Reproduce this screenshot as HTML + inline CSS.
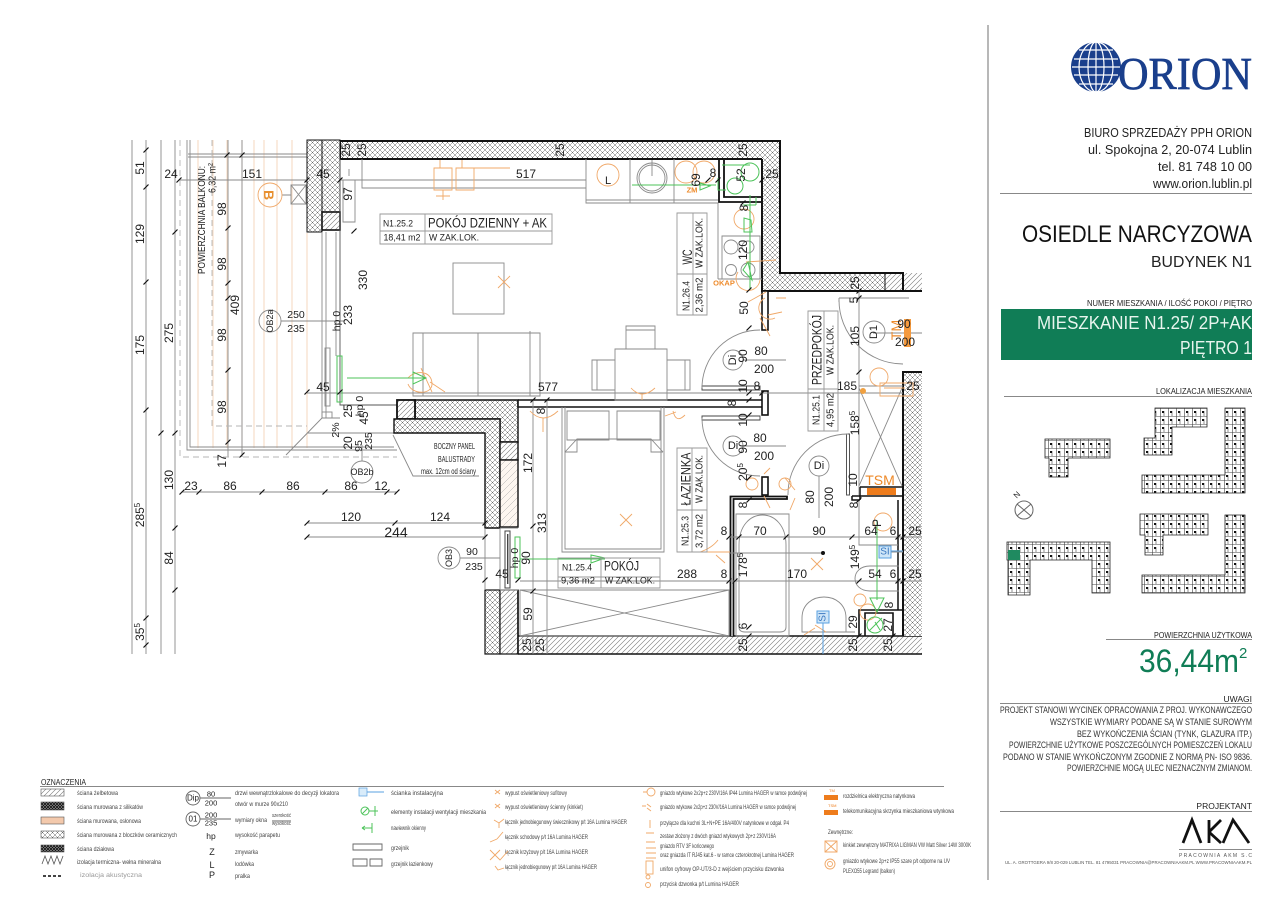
<!DOCTYPE html>
<html lang="pl"><head><meta charset="utf-8"><title>Mieszkanie N1.25</title>
<style>
html,body{margin:0;padding:0;background:#fff}
svg{display:block}
text{font-family:"Liberation Sans","DejaVu Sans",sans-serif;fill:#222}
.d text{font-size:12px;text-anchor:middle;dominant-baseline:central;fill:#222}
.lg text{font-size:6.6px;fill:#444}
.o{stroke:#f0a868;fill:none;stroke-width:.9}
.g{stroke:#8a8a8a;fill:none;stroke-width:.9}
.gl{stroke:#b5b5b5;fill:none;stroke-width:.9}
.k{stroke:#111;fill:none;stroke-width:2}
.gr{stroke:#4cc35a;fill:none;stroke-width:1}
</style></head><body>
<svg xmlns="http://www.w3.org/2000/svg" width="1280" height="905" viewBox="0 0 1280 905">
<defs>
<pattern id="cr" patternUnits="userSpaceOnUse" width="5" height="5"><rect width="5" height="5" fill="#fff"/><path d="M0 0L5 5M5 0L0 5" stroke="#666" stroke-width=".5"/></pattern>
<pattern id="di" patternUnits="userSpaceOnUse" width="5" height="5"><rect width="5" height="5" fill="#fff"/><path d="M-1 6L6 -1M-1 1L1 -1M4 6L6 4" stroke="#777" stroke-width=".6"/></pattern>
<pattern id="pe" patternUnits="userSpaceOnUse" width="7" height="7"><rect width="7" height="7" fill="#fdf6f0"/><path d="M-1 8L8 -1" stroke="#aaa" stroke-width=".5"/></pattern>
<pattern id="bl" patternUnits="userSpaceOnUse" width="8" height="8"><rect width="8" height="8" fill="#fff"/><path d="M0 .5H8M.5 0V8M4 3V8" stroke="#444" stroke-width=".6"/><rect x="2" y="3" width="2" height="2" fill="#111"/></pattern>
<pattern id="de" patternUnits="userSpaceOnUse" width="3" height="3"><rect width="3" height="3" fill="#aaa"/><path d="M0 0L3 3M3 0L0 3" stroke="#111" stroke-width=".9"/></pattern>
<g id="t"><path d="M-2.5 2.5L2.5 -2.5" stroke="#111" stroke-width="1.2"/></g>
</defs>

<!-- balcony -->
<g style="stroke:#f3d3b8;fill:none;stroke-width:.9">
<path d="M198 140V448M213 140V448M227 140V448M242 140V448M254 140V448M264 140V448M277 140V448M292 140V448M307 233V448"/>
</g>
<g class="g">
<path d="M187 140V450H397M190 140V447H394"/>
<path d="M228 140V457M242 140V457M161 140V654M175 140V654M146 140V654M132 140V654"/>
<path d="M188 154H307M188 157H307M180 180H586"/>
<path d="M286 455L322 418H340M307 433H394"/>
<path d="M281 321H345M282 195H291M291 185H306V204H291ZM291 185L306 204M306 185L291 204"/>
<path d="M362 445V461M393 435L413 476H479"/>
<path d="M182 492H397M307 523H485M307 537H485M460 558H500"/>
</g>
<g class="gl" style="stroke-dasharray:6 4">
<path d="M180 140V457H397M212 140V426H307"/>
</g>
<circle cx="270" cy="195" r="12" class="o"/>
<text x="269" y="195" transform="rotate(90 269 195)" text-anchor="middle" dominant-baseline="central" style="fill:#e89030;font-size:14px;font-weight:bold">B</text>

<!-- walls -->
<path d="M340 141H780V273H885V291H762V159H340Z" fill="url(#cr)"/>
<rect x="885" y="273" width="18" height="18" fill="url(#di)"/>
<rect x="903" y="273" width="19" height="18" fill="url(#di)"/>
<path d="M340 159V141H780V273H903V291M903 291H922M762 159H340M762 159V291H903" class="k"/>
<path d="M885 273V291" class="k" style="stroke-width:1"/>
<rect x="762" y="291" width="6" height="39" fill="#fff" stroke="#111" stroke-width="1.6"/>
<rect x="307" y="140" width="15" height="92" fill="url(#cr)" stroke="#111" stroke-width="1"/>
<rect x="322" y="140" width="18" height="72" fill="url(#cr)" stroke="#111" stroke-width="1"/>
<rect x="322" y="212" width="18" height="18" fill="url(#di)" stroke="#111" stroke-width="1.6"/>
<path d="M322 232V418M326 232V418M336 232V356" class="g"/>
<path d="M340 159V405H397" class="g" style="stroke:#555"/>
<rect x="325" y="348" width="5" height="58" fill="#fff" class="g"/>
<rect x="322" y="412" width="10" height="6" fill="#fff" class="g"/>
<path d="M415 400H518V442H500V419H415Z" fill="url(#cr)" stroke="#111" stroke-width="1.4"/>
<rect x="397" y="400" width="18" height="19" fill="url(#di)" stroke="#111" stroke-width="1.8"/>
<path d="M394 419H500V528H485V433H394Z" fill="url(#cr)" stroke="#111" stroke-width="1.4"/>
<rect x="500" y="442" width="18" height="18" fill="url(#di)" stroke="#111" stroke-width="1.4"/>
<rect x="500" y="460" width="18" height="67" fill="url(#pe)" stroke="#111" stroke-width="1.4"/>
<rect x="485" y="590" width="15" height="64" fill="url(#cr)" stroke="#111" stroke-width="1.2"/>
<rect x="500" y="590" width="18" height="64" fill="url(#di)" stroke="#111" stroke-width="1.2"/>
<rect x="518" y="636" width="404" height="18" fill="url(#di)"/>
<path d="M518 636H922M518 654H922M518 590V654" class="k" style="stroke-width:1.6"/>
<rect x="903" y="372" width="19" height="264" fill="url(#cr)"/>
<path d="M922 372H903V636" class="k"/>
<rect x="518" y="400" width="244" height="7" fill="#fff"/>
<path d="M518 400H762M518 407H762M518 400V407" class="k" style="stroke-width:1.6"/>
<rect x="762" y="391" width="6" height="24" fill="#fff" stroke="#111" stroke-width="1.6"/>
<!-- bathroom walls -->
<path d="M730.5 636V496.5H787V499H733.5V636" fill="#fff" stroke="#111" stroke-width="1.8"/>
<rect x="762" y="477" width="6" height="18" fill="#fff" stroke="#111" stroke-width="1.6"/>
<path d="M852 496H903M852 496V500H860M860 487H903M860 487V500M898 500V610" class="k" style="stroke-width:1.5"/>
<rect x="867" y="488" width="29" height="7" fill="#ee7c1c"/>
<rect x="846.5" y="434" width="3" height="61" fill="#fff" stroke="#555" stroke-width="1"/>
<path d="M859 636V610H903M865 636V613H893V636" class="k" style="stroke-width:1.6"/>
<!-- kitchen shaft -->
<path d="M719 159V202H762M724 159V197H762" class="k" style="stroke-width:1.8"/>
<!-- window OB3 -->
<path d="M500 528H518M500 590H518M485 528V590M500 528V590" class="g"/>
<rect x="505" y="531" width="5" height="57" fill="#fff" stroke="#444"/>
<rect x="507" y="534" width="1.4" height="50" fill="#444"/>

<!-- furniture -->
<g class="g">
<path d="M362 159V188H586M586 159V203H718M630 159V203M674 159V203M586 200H718"/>
<circle cx="652" cy="178" r="15"/><circle cx="652" cy="178" r="13"/>
<path d="M652 160V176"/>
<path d="M718 203V279M722 236H760V279H722ZM718 279H762"/>
<circle cx="731" cy="247" r="7"/><circle cx="748" cy="247" r="6"/><circle cx="731" cy="270" r="5.5"/><circle cx="748" cy="270" r="7"/>
<path d="M343 180H355V222H343ZM349 169V176"/>
<rect x="453" y="263" width="51" height="51"/>
<path d="M413 333H540V396H413ZM423 333V396M478 333V396M530 331V396H413"/>
<path d="M615 349H667V400H615ZM626 349V326H655V349M626 330H655M615 360H592V390H615M597 360V390M667 360H690V390H667M685 360V390"/>
<path d="M307 393H903"/>
<path d="M859 291V495M839 298H909M839 298V302"/>
<path d="M859 386H903M859 388L902 486M902 388L859 486"/>
<path d="M533 400V654M547 400V654"/>
<path d="M520 590H729V636H520ZM520 590L729 636M520 636L729 590"/>
<path d="M562 407V552H664V407M565 407V549H661V407"/>
<path d="M567 411H609V440H567ZM617 411H660V440H617Z"/>
<path d="M565 452L577 439H651L663 452M565 452H577V439M651 439V452H663"/>
<path d="M520 581H922M729 537H922M729 553H823"/>
<path d="M736 514H789V636H736ZM739 627V545C739 505 786 505 786 545V627Q786 632 780 632H745Q739 632 739 627"/>
<path d="M802 632V618C802 590 846 590 846 618V632ZM802 632H855"/>
<path d="M899 566H870C850 566 850 591 870 591H899"/>
<path d="M859 500V545H898"/>
<path d="M743 360H786M743 446H786M819 476V518M873 333H922M885 552H903"/>
<path d="M702 386H760V390H702ZM702 416H760V420H702Z" fill="#fff" style="stroke:#444"/>
<path d="M702 388A58 58 0 0 1 760 330M702 418A58 58 0 0 0 760 476M788 495A60 60 0 0 1 848 434M839 300A64 64 0 0 0 903 364"/>
<circle cx="733" cy="360" r="10"/><circle cx="733" cy="446" r="10"/><circle cx="819" cy="466" r="10"/><circle cx="874" cy="332" r="11"/>
<circle cx="270" cy="321" r="11"/><circle cx="362" cy="472" r="11"/><circle cx="449" cy="558" r="11"/>
</g>

<!-- orange -->
<g class="o">
<path d="M498 276L510 288M510 276L498 288M620 514L632 526M632 514L620 526M811 558L823 570M823 558L811 570M434 168H452V190H434ZM456 168H474V190H456ZM440 168V160M462 168V160M443 190V200M436 196H450M474 168H510"/>
<circle cx="608" cy="175" r="11"/>
<circle cx="686" cy="172" r="11"/><circle cx="704" cy="172" r="11"/>
<circle cx="744" cy="219" r="10"/>
<path d="M746 262L776 260M738 272A12 12 0 1 0 760 280M765 298A10 10 0 1 0 775 318M748 302L766 292M776 298H786M768 315L782 312M760 318L770 336"/>
<path d="M631 388Q642 400 655 388M642 394V400M530 411Q543 425 558 411M543 418V432"/><path d="M673 411Q676 424 685 415M665 416L676 412"/>
<path d="M408 378C415 370 432 370 432 384C432 395 412 395 408 384M430 382L445 392M421 368L432 392"/>
<circle cx="879" cy="377" r="9"/>
<path d="M880 383H913V396H880ZM884 388H905"/>
<circle cx="752" cy="484" r="6"/><circle cx="785" cy="484" r="6"/>
<path d="M770 468L764 474M785 478L795 490M764 496L770 508M795 498L790 510"/>
<path d="M730 552H700Q712 548 718 540M716 555L725 563"/>
<circle cx="860" cy="600" r="6"/><circle cx="868" cy="612" r="8"/>
<path d="M815 625L826 632M804 635L815 628"/>
<circle cx="883" cy="522" r="9"/>
</g>
<circle cx="863" cy="391" r="3" fill="#f0a040"/>
<rect x="904" y="319" width="7" height="28" fill="#f59a3e"/>
<text transform="translate(896,330) rotate(-90)" text-anchor="middle" dominant-baseline="central" style="fill:#ee8a2a;font-size:14px">TM</text>
<text x="880" y="480" text-anchor="middle" dominant-baseline="central" style="fill:#ee8a2a;font-size:14px">TSM</text>
<text x="692" y="190" text-anchor="middle" dominant-baseline="central" style="fill:#ee8a2a;font-size:7.5px;font-weight:bold">ZM</text>
<text x="724" y="283" text-anchor="middle" dominant-baseline="central" style="fill:#ee8a2a;font-size:7.5px;font-weight:bold">OKAP</text>
<text x="608" y="181" text-anchor="middle" dominant-baseline="central" style="font-size:11px">L</text>

<!-- green -->
<g class="gr">
<path d="M632 185H716M700 183L710 186L700 190ZM347 378H426M413 372L426 378L413 384ZM337 356H342V402H337ZM520 559H605M591 555L605 558L591 563ZM515 537H520V578H515ZM750 195V290M877 520V600M870 598H884L877 612ZM722 165H750"/>
<circle cx="750" cy="172" r="9"/><circle cx="735" cy="186" r="8"/>
<path d="M718 178V190H726M756 197V205M743 205H756M748 262L752 280L743 270ZM751 220L744 218V232H752ZM875 622L880 630"/>
<circle cx="875" cy="625" r="8"/>
<path d="M869 631L882 618"/>
</g>
<!-- blue -->
<g fill="none" stroke="#5aa0e0">
<rect x="879" y="546" width="12" height="12" fill="#cfe6f8"/><rect x="817" y="611" width="12" height="12" fill="#cfe6f8"/>
<path d="M891 551H903M823 623V654"/>
</g>
<text x="885" y="552" text-anchor="middle" dominant-baseline="central" style="font-size:10px;fill:#3a78c0">SI</text>
<text transform="translate(823,617) rotate(-90)" text-anchor="middle" dominant-baseline="central" style="font-size:10px;fill:#3a78c0">SI</text>
<circle cx="823" cy="553" r="2" fill="#111"/>

<!-- room label boxes -->
<g class="g" style="stroke:#999">
<path d="M380 214H552V244H380ZM380 231H552M425 214V244"/>
<path d="M677 213H707V315H677ZM677 274H707M693 213V315"/>
<path d="M808 311H838V431H808ZM808 389H838M824 311V431"/>
<path d="M677 448H707V552H677ZM677 510H707M692 448V552"/>
<path d="M558 558H660V588H558ZM558 577H660M601 558V588"/>
</g>
<g>
<text x="398" y="224" text-anchor="middle" dominant-baseline="central" textLength="30" lengthAdjust="spacingAndGlyphs" style="font-size:9.5px">N1.25.2</text>
<text x="402" y="238" text-anchor="middle" dominant-baseline="central" textLength="37" lengthAdjust="spacingAndGlyphs" style="font-size:9.5px">18,41 m2</text>
<text x="428" y="223" dominant-baseline="central" textLength="119" lengthAdjust="spacingAndGlyphs" style="font-size:13.5px">POKÓJ DZIENNY + AK</text>
<text x="429" y="238" dominant-baseline="central" textLength="50" lengthAdjust="spacingAndGlyphs" style="font-size:9.5px">W ZAK.LOK.</text>
<text x="577" y="568" text-anchor="middle" dominant-baseline="central" textLength="30" lengthAdjust="spacingAndGlyphs" style="font-size:9.5px">N1.25.4</text>
<text x="578" y="581" text-anchor="middle" dominant-baseline="central" textLength="34" lengthAdjust="spacingAndGlyphs" style="font-size:9.5px">9,36 m2</text>
<text x="604" y="566" dominant-baseline="central" textLength="35" lengthAdjust="spacingAndGlyphs" style="font-size:13.5px">POKÓJ</text>
<text x="605" y="581" dominant-baseline="central" textLength="50" lengthAdjust="spacingAndGlyphs" style="font-size:9.5px">W ZAK.LOK.</text>
</g>
<g class="d">
<text transform="translate(687,257) rotate(-90)" textLength="15" lengthAdjust="spacingAndGlyphs" style="font-size:14px">WC</text>
<text transform="translate(700,243) rotate(-90)" textLength="50" lengthAdjust="spacingAndGlyphs" style="font-size:10px">W ZAK.LOK.</text>
<text transform="translate(687,296) rotate(-90)" textLength="30" lengthAdjust="spacingAndGlyphs" style="font-size:10px">N1.26.4</text>
<text transform="translate(700,295) rotate(-90)" textLength="35" lengthAdjust="spacingAndGlyphs" style="font-size:10px">2,36 m2</text>
<text transform="translate(817,350) rotate(-90)" textLength="70" lengthAdjust="spacingAndGlyphs" style="font-size:13.5px">PRZEDPOKÓJ</text>
<text transform="translate(831,350) rotate(-90)" textLength="50" lengthAdjust="spacingAndGlyphs" style="font-size:10px">W ZAK.LOK.</text>
<text transform="translate(817,410) rotate(-90)" textLength="30" lengthAdjust="spacingAndGlyphs" style="font-size:10px">N1.25.1</text>
<text transform="translate(831,410) rotate(-90)" textLength="34" lengthAdjust="spacingAndGlyphs" style="font-size:10px">4,95 m2</text>
<text transform="translate(686,479) rotate(-90)" textLength="53" lengthAdjust="spacingAndGlyphs" style="font-size:13.5px">ŁAZIENKA</text>
<text transform="translate(700,479) rotate(-90)" textLength="48" lengthAdjust="spacingAndGlyphs" style="font-size:10px">W ZAK.LOK.</text>
<text transform="translate(686,531) rotate(-90)" textLength="30" lengthAdjust="spacingAndGlyphs" style="font-size:10px">N1.25.3</text>
<text transform="translate(700,531) rotate(-90)" textLength="34" lengthAdjust="spacingAndGlyphs" style="font-size:10px">3,72 m2</text>

<!-- vertical dims left -->
<text transform="translate(140,168) rotate(-90)">51</text>
<text transform="translate(140,234) rotate(-90)">129</text>
<text transform="translate(140,345) rotate(-90)">175</text>
<text transform="translate(140,515) rotate(-90)">285<tspan dy="-3" style="font-size:8px">5</tspan></text>
<text transform="translate(140,632) rotate(-90)">35<tspan dy="-3" style="font-size:8px">5</tspan></text>
<text transform="translate(169,333) rotate(-90)">275</text>
<text transform="translate(169,480) rotate(-90)">130</text>
<text transform="translate(169,558) rotate(-90)">84</text>
<text transform="translate(202,220) rotate(-90)" textLength="108" lengthAdjust="spacingAndGlyphs" style="font-size:10.5px">POWIERZCHNIA BALKONU:</text>
<text transform="translate(213,178) rotate(-90)" textLength="30" lengthAdjust="spacingAndGlyphs" style="font-size:10px">6,32 m²</text>
<text transform="translate(222,209) rotate(-90)">98</text>
<text transform="translate(222,264) rotate(-90)">98</text>
<text transform="translate(222,335) rotate(-90)">98</text>
<text transform="translate(222,407) rotate(-90)">98</text>
<text transform="translate(235,305) rotate(-90)">409</text>
<text transform="translate(222,461) rotate(-90)">17</text>
<text x="171" y="174">24</text><text x="252" y="174">151</text><text x="323" y="174">45</text>
<text x="323" y="387">45</text>
<text transform="translate(270,321) rotate(-90)" style="font-size:9px">OB2a</text>
<text x="296" y="315" style="font-size:10.5px">250</text><text x="296" y="329" style="font-size:10.5px">235</text>
<text transform="translate(337,321) rotate(-90)" style="font-size:10.5px">hp 0</text>
<text transform="translate(348,315) rotate(-90)">233</text>
<text transform="translate(363,280) rotate(-90)">330</text>
<text transform="translate(348,194) rotate(-90)">97</text>
<text transform="translate(346,150) rotate(-90)">25</text><text transform="translate(362,150) rotate(-90)">25</text>
<text transform="translate(560,150) rotate(-90)">25</text><text transform="translate(743,150) rotate(-90)">25</text>
<text x="526" y="174">517</text>
<text x="713" y="173">8</text><text transform="translate(741,175) rotate(-90)">52</text><text x="772" y="174">25</text>
<text transform="translate(696,180) rotate(-90)">69</text>
<text transform="translate(744,208) rotate(-90)">8</text><text transform="translate(743,250) rotate(-90)">120</text>
<text transform="translate(744,308) rotate(-90)">50</text>
<text transform="translate(733,360) rotate(-90)" style="font-size:11px">Di</text><text transform="translate(743,356) rotate(-90)">90</text>
<text x="761" y="351">80</text><text x="764" y="369">200</text>
<text transform="translate(743,386) rotate(-90)">10</text><text x="757" y="386">8</text>
<text x="548" y="387">577</text><text transform="translate(732,403) rotate(-90)">8</text>
<text transform="translate(855,283) rotate(-90)">25</text><text transform="translate(854,300) rotate(-90)">5</text>
<text transform="translate(874,332) rotate(-90)" style="font-size:11px">D1</text>
<text transform="translate(855,336) rotate(-90)">105</text>
<text x="904" y="324">90</text><text x="905" y="342">200</text>
<text x="847" y="386">185</text><text x="913" y="386">25</text>
<text transform="translate(855,423) rotate(-90)">158<tspan dy="-3" style="font-size:8px">5</tspan></text>
<text transform="translate(743,420) rotate(-90)">10</text>
<text transform="translate(733,446)" style="font-size:11px">Di</text><text transform="translate(743,447) rotate(-90)">90</text>
<text x="760" y="438">80</text><text x="764" y="456">200</text>
<text transform="translate(743,472) rotate(-90)">20<tspan dy="-3" style="font-size:8px">5</tspan></text>
<text x="819" y="466" style="font-size:11px">Di</text>
<text transform="translate(810,497) rotate(-90)">80</text><text transform="translate(829,497) rotate(-90)">200</text>
<text transform="translate(853,480) rotate(-90)">10</text>
<text transform="translate(743,505) rotate(-90)">8</text><text transform="translate(854,505) rotate(-90)">8</text>
<text x="724" y="531">8</text><text x="760" y="531">70</text><text x="819" y="531">90</text><text x="871" y="531">64</text><text x="893" y="531">6</text><text x="915" y="531">25</text>
<text transform="translate(877,523) rotate(-90)">P</text>
<text x="687" y="574">288</text><text x="724" y="574">8</text><text x="797" y="574">170</text><text x="875" y="574">54</text><text x="893" y="574">6</text><text x="915" y="574">25</text>
<text transform="translate(743,565) rotate(-90)">178<tspan dy="-3" style="font-size:8px">5</tspan></text>
<text transform="translate(855,557) rotate(-90)">149<tspan dy="-3" style="font-size:8px">5</tspan></text>
<text transform="translate(743,626) rotate(-90)">6</text>
<text transform="translate(853,622) rotate(-90)">29</text><text transform="translate(888,625) rotate(-90)">27</text><text transform="translate(889,605) rotate(-90)">8</text>
<text transform="translate(527,645) rotate(-90)">25</text><text transform="translate(540,645) rotate(-90)">25</text><text transform="translate(743,645) rotate(-90)">25</text><text transform="translate(853,645) rotate(-90)">25</text><text transform="translate(888,645) rotate(-90)">25</text>
<text transform="translate(528,463) rotate(-90)">172</text><text transform="translate(542,523) rotate(-90)">313</text>
<text transform="translate(528,614) rotate(-90)">59</text><text transform="translate(541,411) rotate(-90)">8</text>
<text transform="translate(348,411) rotate(-90)">25</text><text transform="translate(360,406) rotate(-90)" style="font-size:10.5px">hp 0</text><text transform="translate(364,418) rotate(-90)">45</text>
<text transform="translate(336,430) rotate(-90)" style="font-size:10.5px">2%</text><text transform="translate(348,443) rotate(-90)">20</text><text transform="translate(369,441) rotate(-90)" style="font-size:10.5px">235</text><text transform="translate(359,446) rotate(-90)" style="font-size:10.5px">95</text>
<text x="362" y="472" style="font-size:9px">OB2b</text>
<text x="191" y="486">23</text><text x="230" y="486">86</text><text x="293" y="486">86</text><text x="351" y="486">86</text><text x="381" y="486">12</text>
<text x="351" y="517">120</text><text x="440" y="517">124</text><text x="396" y="532" style="font-size:14px">244</text>
<text transform="translate(449,558) rotate(-90)" style="font-size:9px">OB3</text>
<text x="472" y="552" style="font-size:10.5px">90</text><text x="474" y="567" style="font-size:10.5px">235</text>
<text transform="translate(515,558) rotate(-90)" style="font-size:10.5px">hp 0</text><text transform="translate(526,558) rotate(-90)">90</text><text x="502" y="574">45</text>
</g>
<text x="475" y="449" text-anchor="end" textLength="41" lengthAdjust="spacingAndGlyphs" style="font-size:8.5px">BOCZNY PANEL</text>
<text x="475" y="462" text-anchor="end" textLength="37" lengthAdjust="spacingAndGlyphs" style="font-size:8.5px">BALUSTRADY</text>
<text x="476" y="474" text-anchor="end" textLength="55" lengthAdjust="spacingAndGlyphs" style="font-size:8px">max. 12cm od ściany</text>
<!-- ticks -->
<g>
<use href="#t" x="146" y="150"/><use href="#t" x="146" y="187"/><use href="#t" x="146" y="282"/><use href="#t" x="146" y="410"/><use href="#t" x="146" y="618"/><use href="#t" x="146" y="645"/>
<use href="#t" x="175" y="232"/><use href="#t" x="175" y="433"/><use href="#t" x="175" y="528"/><use href="#t" x="175" y="590"/><use href="#t" x="161" y="433"/>
<use href="#t" x="179" y="180"/><use href="#t" x="307" y="180"/><use href="#t" x="340" y="180"/><use href="#t" x="227" y="155"/><use href="#t" x="242" y="155"/>
<use href="#t" x="228" y="228"/><use href="#t" x="228" y="283"/><use href="#t" x="228" y="298"/><use href="#t" x="228" y="370"/><use href="#t" x="228" y="442"/><use href="#t" x="242" y="455"/>
<use href="#t" x="307" y="392"/><use href="#t" x="340" y="392"/><use href="#t" x="354" y="231"/>
<use href="#t" x="182" y="492"/><use href="#t" x="199" y="492"/><use href="#t" x="262" y="492"/><use href="#t" x="325" y="492"/><use href="#t" x="387" y="492"/><use href="#t" x="397" y="492"/>
<use href="#t" x="307" y="523"/><use href="#t" x="395" y="523"/><use href="#t" x="485" y="523"/><use href="#t" x="307" y="537"/><use href="#t" x="485" y="537"/><use href="#t" x="485" y="580"/><use href="#t" x="518" y="580"/>
<use href="#t" x="708" y="180"/><use href="#t" x="718" y="180"/><use href="#t" x="762" y="180"/><use href="#t" x="743" y="203"/><use href="#t" x="749" y="290"/><use href="#t" x="749" y="328"/>
<use href="#t" x="749" y="393"/><use href="#t" x="762" y="393"/><use href="#t" x="859" y="291"/><use href="#t" x="859" y="298"/><use href="#t" x="859" y="372"/>
<use href="#t" x="533" y="400"/><use href="#t" x="547" y="400"/><use href="#t" x="533" y="591"/><use href="#t" x="533" y="526"/><use href="#t" x="729" y="537"/><use href="#t" x="739" y="537"/><use href="#t" x="786" y="537"/><use href="#t" x="852" y="537"/><use href="#t" x="898" y="537"/><use href="#t" x="903" y="537"/>
<use href="#t" x="729" y="581"/><use href="#t" x="735" y="581"/><use href="#t" x="859" y="581"/><use href="#t" x="898" y="581"/><use href="#t" x="903" y="581"/>
<use href="#t" x="749" y="400"/><use href="#t" x="749" y="415"/><use href="#t" x="749" y="478"/><use href="#t" x="749" y="500"/><use href="#t" x="859" y="500"/><use href="#t" x="749" y="627"/><use href="#t" x="749" y="636"/><use href="#t" x="859" y="636"/><use href="#t" x="893" y="636"/>
</g>

<!-- right panel -->
<path d="M988 25V880" stroke="#888" stroke-width="1.2"/>
<g>
<circle cx="1096" cy="67" r="25" fill="#1a3f8c"/>
<g fill="none" stroke="#fff" stroke-width="1.2">
<ellipse cx="1096" cy="67" rx="8" ry="25"/><ellipse cx="1096" cy="67" rx="17" ry="25"/>
<path d="M1096 42V92M1074 59H1118M1072 67H1120M1074 75H1118M1079 50H1113M1079 84H1113"/>
</g>
<text x="1118" y="89" textLength="134" lengthAdjust="spacingAndGlyphs" style="font-family:'Liberation Serif',serif;font-size:46px;fill:#1a3f8c;stroke:#1a3f8c;stroke-width:.7">ORION</text>
</g>
<text x="1252" y="137" textLength="168" lengthAdjust="spacingAndGlyphs" style="font-size:12.5px;text-anchor:end">BIURO SPRZEDAŻY PPH ORION</text>
<text x="1252" y="154" textLength="164" lengthAdjust="spacingAndGlyphs" style="font-size:12.5px;text-anchor:end">ul. Spokojna 2, 20-074 Lublin</text>
<text x="1252" y="171" textLength="94" lengthAdjust="spacingAndGlyphs" style="font-size:12.5px;text-anchor:end">tel. 81 748 10 00</text>
<text x="1252" y="188" textLength="99" lengthAdjust="spacingAndGlyphs" style="font-size:12.5px;text-anchor:end">www.orion.lublin.pl</text>
<text x="1252" y="242" textLength="230" lengthAdjust="spacingAndGlyphs" style="font-size:24px;text-anchor:end;fill:#111">OSIEDLE NARCYZOWA</text>
<text x="1252" y="267" textLength="101" lengthAdjust="spacingAndGlyphs" style="font-size:16px;text-anchor:end">BUDYNEK N1</text>
<text x="1252" y="306" textLength="165" lengthAdjust="spacingAndGlyphs" style="font-size:8.5px;text-anchor:end">NUMER MIESZKANIA / ILOŚĆ POKOI / PIĘTRO</text>
<text x="1252" y="394" textLength="96" lengthAdjust="spacingAndGlyphs" style="font-size:8.5px;text-anchor:end">LOKALIZACJA MIESZKANIA</text>
<text x="1252" y="638" textLength="98" lengthAdjust="spacingAndGlyphs" style="font-size:8.5px;text-anchor:end">POWIERZCHNIA UŻYTKOWA</text>
<text x="1252" y="702" style="font-size:8.5px;text-anchor:end">UWAGI</text>
<text x="1252" y="809" style="font-size:8.5px;text-anchor:end">PROJEKTANT</text>
<path d="M1000 193.5H1252M1004 396.5H1252M1106 639.5H1252M1000 703.5H1252M1000 811.5H1252M1179 849.5H1252" stroke="#888" fill="none"/>
<rect x="1001" y="309" width="251" height="51" fill="#107d56"/>
<text x="1037" y="329" textLength="215" lengthAdjust="spacingAndGlyphs" style="font-size:18px;fill:#e8f5ee">MIESZKANIE N1.25/ 2P+AK</text>
<text x="1180" y="354" textLength="72" lengthAdjust="spacingAndGlyphs" style="font-size:18px;fill:#e8f5ee">PIĘTRO 1</text>

<!-- location plans -->
<g stroke="#222" stroke-width=".8" fill="url(#bl)">
<path d="M1045 439H1110V458H1068V477H1049V458H1045Z"/>
<path d="M1155 408H1207V427H1172V455H1144V438H1155Z"/>
<path d="M1225 408H1245V493H1142V475H1225Z"/>
<path d="M1140 514H1208V535H1163V555H1145V535H1140Z"/>
<path d="M1225 515H1245V593H1142V575H1225Z"/>
<path d="M1007 542H1110V593H1092V560H1030V595H1008V560H1007Z"/>
</g>
<rect x="1008" y="550" width="12" height="10" fill="#1f8a60"/>
<g fill="none" stroke="#666"><circle cx="1024" cy="510" r="9"/><path d="M1017 504L1031 516M1031 504L1017 516"/></g>
<text transform="translate(1017,495) rotate(-45)" text-anchor="middle" dominant-baseline="central" style="font-size:8px">N</text>

<text x="1139" y="672" textLength="100" lengthAdjust="spacingAndGlyphs" style="font-size:32px;fill:#107d56">36,44m</text>
<text x="1239" y="658" style="font-size:15px;fill:#107d56">2</text>

<text x="1252" y="713" textLength="252" lengthAdjust="spacingAndGlyphs" style="text-anchor:end;font-size:9.5px;fill:#333">PROJEKT STANOWI WYCINEK OPRACOWANIA Z PROJ. WYKONAWCZEGO</text>
<text x="1252" y="725" textLength="202" lengthAdjust="spacingAndGlyphs" style="text-anchor:end;font-size:9.5px;fill:#333">WSZYSTKIE WYMIARY PODANE SĄ W STANIE SUROWYM</text>
<text x="1252" y="737" textLength="175" lengthAdjust="spacingAndGlyphs" style="text-anchor:end;font-size:9.5px;fill:#333">BEZ WYKOŃCZENIA ŚCIAN (TYNK, GLAZURA ITP.)</text>
<text x="1252" y="748" textLength="243" lengthAdjust="spacingAndGlyphs" style="text-anchor:end;font-size:9.5px;fill:#333">POWIERZCHNIE UŻYTKOWE POSZCZEGÓLNYCH POMIESZCZEŃ LOKALU</text>
<text x="1252" y="760" textLength="249" lengthAdjust="spacingAndGlyphs" style="text-anchor:end;font-size:9.5px;fill:#333">PODANO W STANIE WYKOŃCZONYM ZGODNIE Z NORMĄ PN- ISO 9836.</text>
<text x="1252" y="771" textLength="185" lengthAdjust="spacingAndGlyphs" style="text-anchor:end;font-size:9.5px;fill:#333">POWIERZCHNIE MOGĄ ULEC NIEZNACZNYM ZMIANOM.</text>
<path d="M1183 843L1192 820L1201 843M1209 820V843M1209 832L1221 820M1209 832L1221 843M1223 843L1233 820L1249 843" fill="none" stroke="#111" stroke-width="2.8"/>
<text x="1179" y="857" textLength="73" lengthAdjust="spacing" style="font-size:5px;fill:#555">PRACOWNIA AKM S.C</text>
<text x="1005" y="864" textLength="247" lengthAdjust="spacingAndGlyphs" style="font-size:4.6px;fill:#555">UL. A. GROTTGERA 9/8  20-029 LUBLIN  TEL. 81 4795031  PRACOWNIA@PRACOWNIAAKM.PL  WWW.PRACOWNIAAKM.PL</text>

<!-- legend -->
<text x="41" y="785" textLength="45" lengthAdjust="spacingAndGlyphs" style="font-size:8.5px">OZNACZENIA</text>
<path d="M40 786.5H944" stroke="#888"/>
<g stroke="#555" stroke-width=".6">
<rect x="41" y="789" width="23" height="7" fill="url(#di)"/>
<rect x="41" y="802" width="23" height="8" fill="url(#de)"/>
<rect x="41" y="817" width="23" height="7" fill="#f3c9ac"/>
<rect x="41" y="831" width="23" height="7" fill="url(#cr)"/>
<rect x="41" y="845" width="23" height="7" fill="url(#de)"/>
</g>
<path d="M42 864L45 856L48 864L51 856L54 864L57 856L60 864L63 856" fill="none" stroke="#555" stroke-width=".8"/>
<path d="M43 876H63" stroke="#444" stroke-width="2" stroke-dasharray="3 2"/>
<g class="lg">
<text x="77" y="795" textLength="41" lengthAdjust="spacingAndGlyphs">ściana żelbetowa</text>
<text x="77" y="809" textLength="66" lengthAdjust="spacingAndGlyphs">ściana murowana z silikatów</text>
<text x="77" y="823" textLength="64" lengthAdjust="spacingAndGlyphs">ściana murowana, osłonowa</text>
<text x="77" y="837" textLength="100" lengthAdjust="spacingAndGlyphs">ściana murowana z bloczków ceramicznych</text>
<text x="77" y="851" textLength="37" lengthAdjust="spacingAndGlyphs">ściana działowa</text>
<text x="77" y="864" textLength="84" lengthAdjust="spacingAndGlyphs">izolacja termiczna- wełna mineralna</text>
<text x="80" y="877" textLength="62" lengthAdjust="spacingAndGlyphs" style="fill:#999">izolacja akustyczna</text>
<text x="235" y="795" textLength="104" lengthAdjust="spacingAndGlyphs">drzwi wewnątrzlokalowe do decyzji lokatora</text>
<text x="235" y="806" textLength="53" lengthAdjust="spacingAndGlyphs">otwór w murze 90x210</text>
<text x="235" y="822" textLength="32" lengthAdjust="spacingAndGlyphs">wymiary okna</text>
<text x="272" y="817" textLength="19" lengthAdjust="spacingAndGlyphs" style="font-size:5px">szerokość</text>
<text x="272" y="825" textLength="19" lengthAdjust="spacingAndGlyphs" style="font-size:5px">wysokość</text>
<text x="235" y="837" textLength="45" lengthAdjust="spacingAndGlyphs">wysokość parapetu</text>
<text x="235" y="854" textLength="23" lengthAdjust="spacingAndGlyphs">zmywarka</text>
<text x="235" y="866" textLength="19" lengthAdjust="spacingAndGlyphs">lodówka</text>
<text x="235" y="878" textLength="15" lengthAdjust="spacingAndGlyphs">pralka</text>
<text x="391" y="795" textLength="52" lengthAdjust="spacingAndGlyphs">ścianka instalacyjna</text>
<text x="391" y="814" textLength="95" lengthAdjust="spacingAndGlyphs">elementy instalacji wentylacji mieszkania</text>
<text x="391" y="830" textLength="35" lengthAdjust="spacingAndGlyphs">nawiewnik okienny</text>
<text x="391" y="850" textLength="18" lengthAdjust="spacingAndGlyphs">grzejnik</text>
<text x="391" y="866" textLength="42" lengthAdjust="spacingAndGlyphs">grzejnik łazienkowy</text>
<text x="505" y="795" textLength="62" lengthAdjust="spacingAndGlyphs">wypust oświetleniowy sufitowy</text>
<text x="505" y="809" textLength="78" lengthAdjust="spacingAndGlyphs">wypust oświetleniowy ścienny (kinkiet)</text>
<text x="505" y="824" textLength="122" lengthAdjust="spacingAndGlyphs">łącznik jednobiegunowy świecznikowy  p/t 16A Lumina HAGER</text>
<text x="505" y="839" textLength="83" lengthAdjust="spacingAndGlyphs">łącznik schodowy  p/t 16A Lumina HAGER</text>
<text x="505" y="854" textLength="83" lengthAdjust="spacingAndGlyphs">łącznik krzyżowy  p/t 16A Lumina HAGER</text>
<text x="505" y="869" textLength="92" lengthAdjust="spacingAndGlyphs">łącznik jednobiegunowy p/t 16A Lumina HAGER</text>
<text x="660" y="795" textLength="147" lengthAdjust="spacingAndGlyphs">gniazdo wtykowe 2x2p+z 230V/16A IP44 Lumina HAGER w ramce podwójnej</text>
<text x="660" y="809" textLength="136" lengthAdjust="spacingAndGlyphs">gniazdo wtykowe 2x2p+z 230V/16A Lumina HAGER w ramce podwójnej</text>
<text x="660" y="825" textLength="129" lengthAdjust="spacingAndGlyphs">przyłącze dla kuchni 3L+N+PE 16A/400V natynkowe w odgał. P4</text>
<text x="660" y="838" textLength="116" lengthAdjust="spacingAndGlyphs">zestaw złożony z dwóch gniazd wtykowych 2p+z 230V/16A</text>
<text x="660" y="848" textLength="54" lengthAdjust="spacingAndGlyphs">gniazdo RTV 3F końcowego</text>
<text x="660" y="857" textLength="134" lengthAdjust="spacingAndGlyphs">oraz gniazda IT RJ45 kat.6 - w ramce czterokrotnej Lumina HAGER</text>
<text x="660" y="871" textLength="124" lengthAdjust="spacingAndGlyphs">unifon cyfrowy OP-UT/3-D z wejściem przycisku dzwonka</text>
<text x="660" y="886" textLength="79" lengthAdjust="spacingAndGlyphs">przycisk dzwonka p/t Lumina HAGER</text>
<text x="843" y="798" textLength="72" lengthAdjust="spacingAndGlyphs">rozdzielnica elektryczna natynkowa</text>
<text x="843" y="813" textLength="111" lengthAdjust="spacingAndGlyphs">telekomunikacyjna skrzynka mieszkaniowa wtynkowa</text>
<text x="828" y="834" textLength="25" lengthAdjust="spacingAndGlyphs">Zewnętrzne:</text>
<text x="843" y="847" textLength="128" lengthAdjust="spacingAndGlyphs">kinkiet zewnętrzny MATRIXA LIGMAN VW Matt Silver 14W 3000K</text>
<text x="843" y="863" textLength="107" lengthAdjust="spacingAndGlyphs">gniazdo wtykowe 2p+z IP55 szare p/t odporne na UV</text>
<text x="843" y="873" textLength="52" lengthAdjust="spacingAndGlyphs">PLEXO55 Legrand (balkon)</text>
</g>
<!-- legend symbols -->
<g class="g" style="stroke:#666">
<circle cx="193" cy="798" r="7"/><circle cx="193" cy="819" r="7"/>
<path d="M200 798H231M200 819H231M272 821H291M353 844H382V850H353ZM353 859H367V866H353ZM370 859H382V866H370Z"/>
</g>
<g class="d">
<text x="193" y="798" style="font-size:8px">Dip</text><text x="193" y="819" style="font-size:8px">01</text>
<text x="211" y="794" style="font-size:7.5px">80</text><text x="211" y="803" style="font-size:7.5px">200</text>
<text x="211" y="815" style="font-size:7.5px">200</text><text x="211" y="823" style="font-size:7.5px">235</text>
<text x="211" y="836" style="font-size:8.5px">hp</text><text x="212" y="852" style="font-size:9px">Z</text><text x="212" y="865" style="font-size:9px">L</text><text x="212" y="875" style="font-size:9px">P</text>
</g>
<rect x="359" y="788" width="8" height="8" fill="#d9ecfa" stroke="#5aa0e0" stroke-width=".7"/>
<path d="M367 792H384" stroke="#5aa0e0"/>
<g class="gr"><circle cx="365" cy="811" r="4"/><path d="M362 814L368 808M369 811H378M375 806V816M362 828H372M372 823V833M362 828L365 826M362 828L365 830"/></g>
<g class="o">
<path d="M495 790L500 794M500 790L495 794M495 804L500 808M500 804L495 808M494 820L499 823L504 819M499 823V828M497 839L503 832M490 842L497 839M490 850L500 860L508 851M490 860L500 850M495 866L498 870L504 868"/>
<circle cx="651" cy="792" r="4"/><path d="M647 792H643M651 807L647 804M647 808L651 811M646 806H642M650 820L650 828M646 833H654M646 842H655M646 848H656M646 853H656M646 858H656"/><rect x="646" y="861" width="7" height="13"/><circle cx="648" cy="877" r="2"/><circle cx="648" cy="885" r="2.5"/>
<path d="M825 841H837V852H825ZM825 841L837 852M837 841L825 852"/>
<circle cx="830" cy="864" r="5"/><circle cx="830" cy="864" r="2.5"/>
</g>
<rect x="824" y="795" width="14" height="5" fill="#ee7c1c"/><rect x="824" y="810" width="14" height="5" fill="#ee7c1c"/>
<text x="829" y="792" style="font-size:4px;fill:#ee7c1c">TM</text><text x="828" y="807" style="font-size:4px;fill:#ee7c1c">TSM</text>
</svg>
</body></html>
